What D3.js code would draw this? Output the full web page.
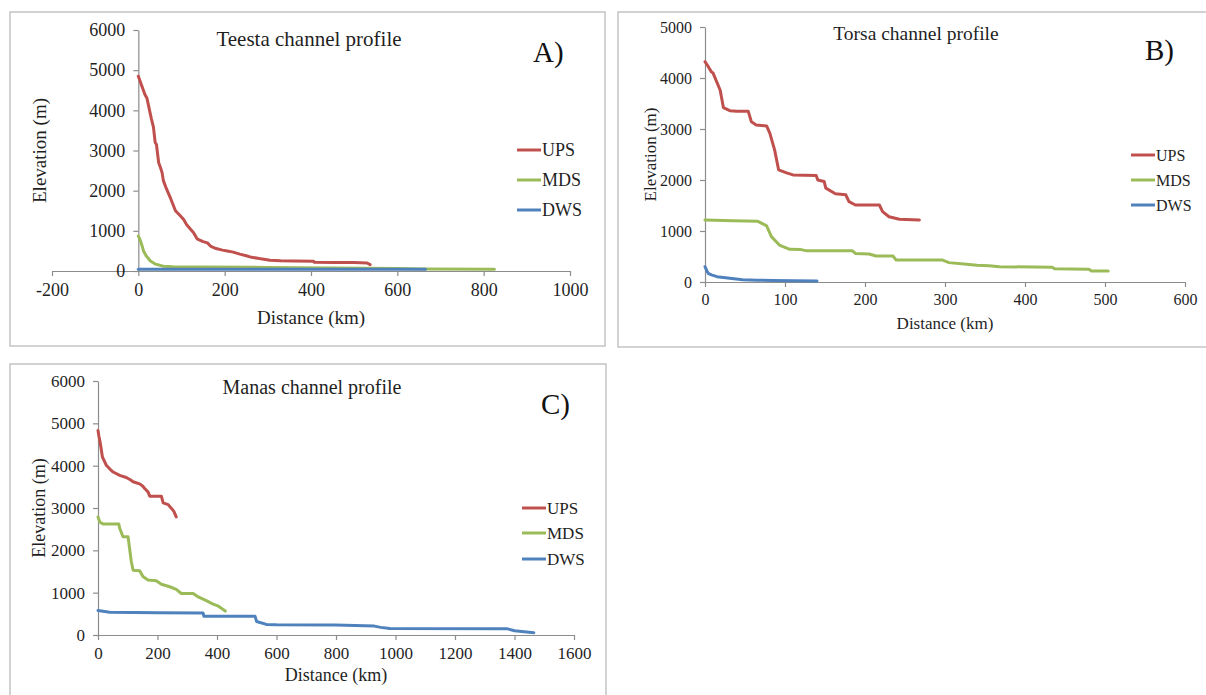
<!DOCTYPE html>
<html>
<head>
<meta charset="utf-8">
<script src="https://cdn.jsdelivr.net/npm/d3@7"></script>
<style>
  html, body { margin: 0; padding: 0; background: #fff; }
  svg { display: block; }
</style>
</head>
<body>
<svg id="chart" width="1206" height="695"></svg>
<script>
// ---------- data (km, elevation m) ----------
const seriesNames = ['UPS', 'MDS', 'DWS'];
const seriesColors = ['#c0504d', '#9bbb59', '#4f81bd'];

const teestaUPS = [[0,4850],[5,4700],[10,4550],[15,4400],[20,4300],[25,4050],[30,3800],[35,3580],[39,3200],[42,3150],[47,2700],[52,2550],[55,2450],[58,2250],[65,2050],[75,1800],[86,1500],[95,1400],[105,1280],[112,1150],[120,1050],[128,950],[136,800],[150,730],[160,700],[167,620],[180,560],[195,520],[206,500],[220,470],[235,420],[250,380],[259,350],[280,310],[305,270],[330,255],[360,250],[406,245],[408,215],[450,210],[500,210],[530,200],[537,160]];
const teestaMDS = [[0,870],[4,780],[8,650],[12,500],[18,380],[28,250],[40,170],[58,120],[80,105],[150,100],[300,90],[450,75],[600,60],[665,50],[825,45]];
const teestaDWS = [[0,45],[665,45]];

const torsaUPS = [[0,4320],[3,4250],[8,4120],[10,4100],[14,3950],[19,3760],[23,3420],[31,3360],[40,3350],[54,3350],[58,3140],[64,3080],[77,3060],[81,2920],[87,2590],[92,2200],[102,2140],[110,2100],[139,2090],[141,2000],[149,1970],[151,1840],[163,1730],[176,1710],[180,1575],[188,1510],[218,1510],[222,1380],[230,1280],[243,1230],[268,1215]];
const torsaMDS = [[0,1215],[35,1200],[66,1190],[70,1160],[77,1100],[83,890],[93,725],[106,640],[120,635],[126,615],[184,615],[188,560],[205,550],[214,510],[235,510],[239,430],[297,430],[305,380],[327,350],[340,330],[355,320],[368,300],[434,290],[437,260],[480,250],[483,215],[504,215]];
const torsaDWS = [[0,300],[2,230],[4,170],[8,140],[15,105],[23,90],[31,75],[47,45],[65,35],[85,30],[110,25],[140,20]];

const manasUPS = [[0,4830],[3,4700],[8,4520],[15,4200],[28,4010],[40,3920],[51,3850],[73,3770],[95,3720],[110,3660],[118,3620],[140,3570],[150,3520],[157,3460],[168,3380],[174,3280],[213,3280],[219,3120],[236,3080],[247,2990],[255,2920],[263,2790]];
const manasMDS = [[0,2790],[6,2670],[17,2620],[70,2620],[73,2520],[84,2320],[101,2320],[107,2000],[112,1730],[118,1530],[140,1520],[151,1380],[168,1300],[196,1280],[213,1200],[241,1140],[263,1080],[280,980],[320,980],[337,900],[364,810],[387,730],[405,680],[428,565]];
const manasDWS = [[0,580],[39,535],[200,525],[353,520],[356,440],[528,440],[533,320],[566,250],[600,240],[798,235],[929,210],[950,180],[981,155],[1374,150],[1400,100],[1465,55]];

const teestaTicksX = [-200, 0, 200, 400, 600, 800, 1000];
const torsaTicksX = [0, 100, 200, 300, 400, 500, 600];
const manasTicksX = [0, 200, 400, 600, 800, 1000, 1200, 1400, 1600];
const teestaTicksY = [0, 1000, 2000, 3000, 4000, 5000, 6000];
const torsaTicksY = [0, 1000, 2000, 3000, 4000, 5000];
const manasTicksY = teestaTicksY;

// ---------- layout ----------
const FONT = '"Liberation Serif", "Times New Roman", serif';
const panels = [
  { title: 'Teesta channel profile', tag: 'A)', series: [teestaUPS, teestaMDS, teestaDWS],
    ticksX: teestaTicksX, ticksY: teestaTicksY,
    frame: [10, 12, 595, 334], xr: [52, 570], yr: [271, 30], fs: 18, titleFs: 21,
    titleXY: [309, 46], tagXY: [533, 62], legX: 517, legY: [150, 180, 210],
    xLabelY: 324, yLabelX: 46 },
  { title: 'Torsa channel profile', tag: 'B)', series: [torsaUPS, torsaMDS, torsaDWS],
    ticksX: torsaTicksX, ticksY: torsaTicksY,
    frame: [618, 12, 600, 335], xr: [705, 1185], yr: [282, 27], fs: 16, titleFs: 19.5,
    titleXY: [916, 40], tagXY: [1145, 60], legX: 1131, legY: [155, 180, 205],
    xLabelY: 329, yLabelX: 656 },
  { title: 'Manas channel profile', tag: 'C)', series: [manasUPS, manasMDS, manasDWS],
    ticksX: manasTicksX, ticksY: manasTicksY,
    frame: [10, 364, 596, 360], xr: [98, 574], yr: [635, 381], fs: 17, titleFs: 20,
    titleXY: [312, 394], tagXY: [541, 414], legX: 522, legY: [508, 533, 559],
    xLabelY: 681, yLabelX: 45 }
];

const svg = d3.select('#chart');
const axisColor = '#8c8c8c';
const ink = '#1f1f1f';

panels.forEach(p => {
  const g = svg.append('g').attr('font-family', FONT);
  const [fx, fy, fw, fh] = p.frame;
  g.append('rect').attr('x', fx).attr('y', fy).attr('width', fw).attr('height', fh)
    .attr('fill', '#fff').attr('stroke', '#c4c4c4').attr('stroke-width', 1.5);

  const x = d3.scaleLinear().domain(d3.extent(p.ticksX)).range(p.xr);
  const y = d3.scaleLinear().domain(d3.extent(p.ticksY)).range(p.yr);
  const fmt = d => String(d);

  // x axis along elevation 0, y axis at distance 0
  const gx = g.append('g').attr('transform', `translate(0,${y(0)})`)
    .call(d3.axisBottom(x).tickValues(p.ticksX).tickFormat(fmt).tickSize(5).tickPadding(7).tickSizeOuter(0));
  const gy = g.append('g').attr('transform', `translate(${x(0)},0)`)
    .call(d3.axisLeft(y).tickValues(p.ticksY).tickFormat(fmt).tickSize(5).tickPadding(8).tickSizeOuter(0));

  [gx, gy].forEach(a => {
    a.attr('font-family', FONT).attr('font-size', p.fs);
    a.select('.domain').attr('stroke', axisColor).attr('stroke-width', 1.2);
    a.selectAll('.tick line').attr('stroke', axisColor).attr('stroke-width', 1.2);
    a.selectAll('.tick text').attr('fill', ink);
  });

  // series lines
  const line = d3.line().x(d => x(d[0])).y(d => y(d[1]));
  p.series.forEach((s, i) => {
    g.append('path').datum(s).attr('d', line).attr('fill', 'none')
      .attr('stroke', seriesColors[i]).attr('stroke-width', 3)
      .attr('stroke-linejoin', 'round').attr('stroke-linecap', 'round');
  });

  // texts
  g.append('text').attr('x', p.titleXY[0]).attr('y', p.titleXY[1])
    .attr('text-anchor', 'middle').attr('font-size', p.titleFs).attr('fill', ink).text(p.title);
  g.append('text').attr('x', p.tagXY[0]).attr('y', p.tagXY[1])
    .attr('font-size', 29).attr('fill', '#111').text(p.tag);
  g.append('text').attr('x', (p.xr[0] + p.xr[1]) / 2)
    .attr('y', p.xLabelY).attr('text-anchor', 'middle')
    .attr('font-size', p.fs + 1).attr('fill', ink).text('Distance (km)');
  g.append('text')
    .attr('transform', `translate(${p.yLabelX},${(p.yr[0] + p.yr[1]) / 2}) rotate(-90)`)
    .attr('text-anchor', 'middle').attr('font-size', p.fs + 1)
    .attr('fill', ink).text('Elevation (m)');

  // legend
  seriesNames.forEach((n, i) => {
    const ly = p.legY[i];
    g.append('line').attr('x1', p.legX).attr('x2', p.legX + 24).attr('y1', ly).attr('y2', ly)
      .attr('stroke', seriesColors[i]).attr('stroke-width', 3);
    g.append('text').attr('x', p.legX + 25).attr('y', ly).attr('dy', '0.35em')
      .attr('font-size', p.fs).attr('fill', ink).text(n);
  });
});
</script>
</body>
</html>
